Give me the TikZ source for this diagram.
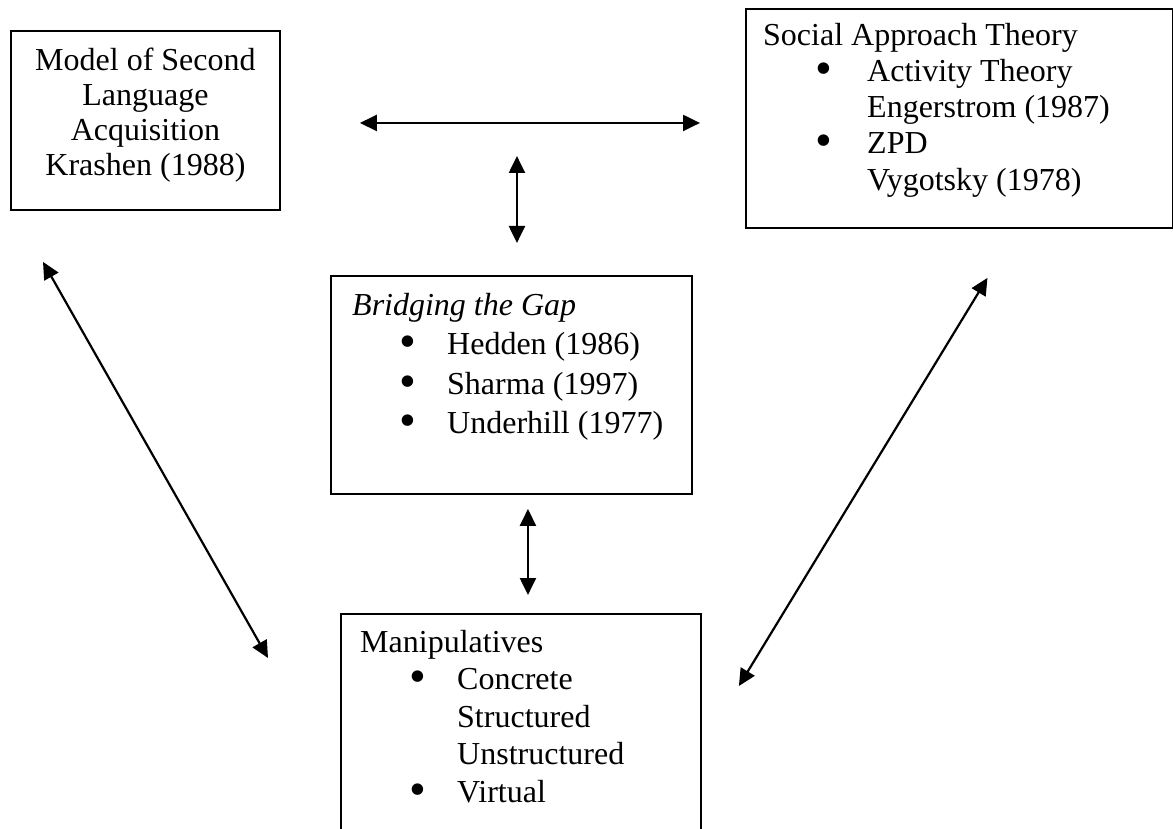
\documentclass[tikz,border=0pt]{standalone}
\usepackage{fontspec}
\setmainfont{Liberation Serif}
\usetikzlibrary{arrows.meta,positioning}
\newcommand{\punt}[2]{\hspace*{#1}\makebox[#2][l]{\smash{\raisebox{-3pt}{\scalebox{1.5}{\textbullet}}}}}

\begin{document}
\begin{tikzpicture}[x=1pt,y=-1pt,boxed/.style={draw,line width=1.9pt,anchor=north west,inner sep=0pt},
	txt/.style={inner sep=0pt,align=left,anchor=north west},
	link/.style={line width=2.2pt,{Triangle[length=17pt,width=16pt]}-{Triangle[length=17pt,width=16pt]}}
]
	\useasboundingbox (0,0) rectangle (1173,829);
	\node[boxed,minimum width=269pt,minimum height=179pt] (model) at (10,30) {};
	\node[boxed,minimum width=427pt,minimum height=219pt] (social) at (745,8) {};
	\node[boxed,minimum width=361pt,minimum height=218pt] (bridge) at (330,275) {};
	\node[boxed,minimum width=360pt,minimum height=260pt] (manip) at (340,613) {};
	\node[txt,align=center,font=\fontsize{32}{35}\selectfont,below=15.5pt of model.north] (modeltxt)
		{\strut Model of Second\\ Language\\ Acquisition\\ Krashen (1988)};
	\node[txt,font=\fontsize{32}{36.2}\selectfont,below right=11.8pt and 18pt of social.north west] (socialtxt)
		{\strut Social Approach Theory\\ \punt{52pt}{52pt}Activity Theory\\ \hspace*{104pt}Engerstrom (1987)\\
		\punt{52pt}{52pt}ZPD\\ \hspace*{104pt}Vygotsky (1978)};
	\node[txt,font=\fontsize{32}{39.3}\selectfont,below right=12.7pt and 22pt of bridge.north west] (bridgetxt)
		{\strut\textit{Bridging the Gap}\\ \punt{47pt}{48pt}Hedden (1986)\\ \punt{47pt}{48pt}Sharma (1997)\\
		\punt{47pt}{48pt}Underhill (1977)};
	\node[txt,font=\fontsize{32}{37.5}\selectfont,below right=12.75pt and 20pt of manip.north west] (maniptxt)
		{\strut Manipulatives\\ \punt{49pt}{48pt}Concrete\\ \hspace*{97pt}Structured\\ \hspace*{97pt}Unstructured\\
		\punt{49pt}{48pt}Virtual};
	\draw[link] ([shift={(79,2.5)}]model.east) -- ([shift={(-45,4.5)}]social.west);
	\draw[link] ([shift={(5.5,-119)}]bridge.north) -- ([shift={(5.5,-32)}]bridge.north);
	\draw[link] ([shift={(16.5,14)}]bridge.south) -- ([shift={(7,-18)}]manip.north);
	\draw[link] ([shift={(33,51)}]model.south west) -- ([shift={(-72,45)}]manip.north west);
	\draw[link] ([shift={(28,49)}]social.south) -- ([shift={(37,73)}]manip.north east);
\end{tikzpicture}
\end{document}
